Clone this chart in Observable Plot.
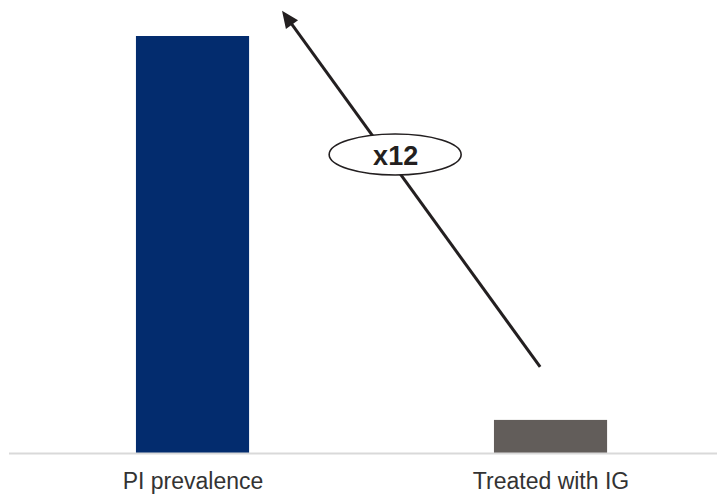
<!DOCTYPE html>
<html>
<head>
<meta charset="utf-8">
<script src="https://cdn.jsdelivr.net/npm/d3@7"></script>
<script src="https://cdn.jsdelivr.net/npm/@observablehq/plot@0.6"></script>
<style>
  html, body { margin: 0; padding: 0; background: #fff; }
  #chart svg { display: block; }
</style>
</head>
<body>
<div id="chart"></div>
<script>
// Data
const categories = ["PI prevalence", "Treated with IG"];
const values = [12.6, 1.0];
const barColors = ["#032c6e", "#625d5a"];
const annotationLabel = "x12";
// Arrow annotation endpoints (x in category-index units, y in value units)
const arrowFrom = {x: 0.971, y: 2.6};
const arrowTo = {x: 0.25, y: 13.36};
const labelAt = {x: 0.566, y: 9.02};

const bars = categories.map((c, i) => ({i, category: c, value: values[i], color: barColors[i]}));
const halfWidth = 0.158;
const ink = "#231f20";

const chart = Plot.plot({
  width: 717,
  height: 495,
  marginLeft: 9,
  marginRight: 0,
  marginTop: 36,
  marginBottom: 42,
  style: {fontFamily: "'Liberation Sans', Arial, sans-serif", background: "#fff"},
  x: {domain: [-0.5126, 1.465], axis: null},
  y: {domain: [0, 12.6], axis: null},
  marks: [
    Plot.rectY(bars, {x1: d => d.i - halfWidth, x2: d => d.i + halfWidth, y: "value", fill: d => d.color}),
    Plot.ruleY([0], {stroke: "#d9d9d9", strokeWidth: 2}),
    Plot.axisX({
      ticks: categories.map((c, i) => i),
      tickFormat: i => categories[i],
      tickSize: 0,
      tickPadding: 19,
      fontSize: 23,
      fill: "#333",
      label: null
    }),
    Plot.link([{from: arrowFrom, to: arrowTo}], {
      x1: d => d.from.x, y1: d => d.from.y, x2: d => d.to.x, y2: d => d.to.y,
      render(index, scales, v) {
        const g = d3.create("svg:g");
        for (const i of index) {
          const x1 = v.x1[i], y1 = v.y1[i], x2 = v.x2[i], y2 = v.y2[i];
          const a = Math.atan2(y2 - y1, x2 - x1);
          const L = 17, w = 7.5;
          const bx = x2 - L * Math.cos(a), by = y2 - L * Math.sin(a);
          g.append("line").attr("x1", x1).attr("y1", y1).attr("x2", bx + 2 * Math.cos(a)).attr("y2", by + 2 * Math.sin(a))
            .attr("stroke", ink).attr("stroke-width", 3);
          const px = -Math.sin(a), py = Math.cos(a);
          g.append("path")
            .attr("d", `M${x2},${y2}L${bx + w * px},${by + w * py}L${bx - w * px},${by - w * py}Z`)
            .attr("fill", ink);
        }
        return g.node();
      }
    }),
    Plot.dot([labelAt], {
      x: "x", y: "y",
      render(index, scales, v) {
        const g = d3.create("svg:g");
        for (const i of index) {
          g.append("ellipse").attr("cx", v.x[i]).attr("cy", v.y[i]).attr("rx", 66).attr("ry", 20.5)
            .attr("fill", "#fff").attr("stroke", ink).attr("stroke-width", 1.6);
        }
        return g.node();
      }
    }),
    Plot.text([labelAt], {x: "x", y: "y", text: () => annotationLabel, fontSize: 27, fontWeight: "bold", fill: ink, dy: 1})
  ]
});
document.getElementById("chart").appendChild(chart);
</script>
</body>
</html>
